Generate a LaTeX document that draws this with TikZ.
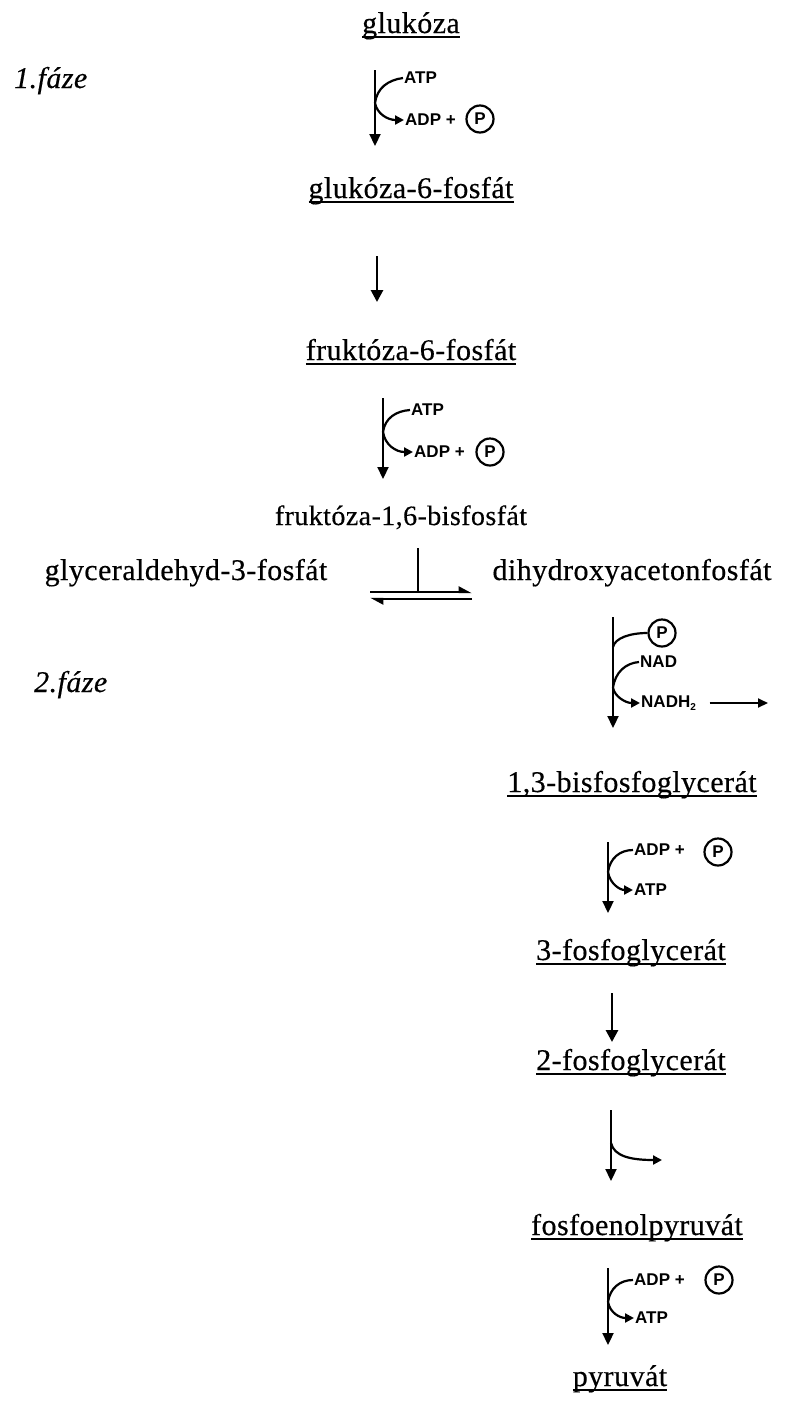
\documentclass[tikz,border=0pt]{standalone}
\usepackage{fontspec}
\setmainfont{Liberation Serif}[LetterSpace=1.5,FakeBold=0.4]
\setsansfont{Liberation Sans}
\usetikzlibrary{arrows.meta}

% underline at a fixed depth below the baseline
\newcommand\uln[1]{\setbox0=\hbox{#1}\rlap{\rule[-5pt]{\wd0}{1.6pt}}\box0}

\begin{document}
\begin{tikzpicture}[x=1pt,y=-1pt,
  chem/.style={anchor=base,inner sep=0pt,font=\fontsize{30}{32}\selectfont},
  phase/.style={anchor=base west,inner sep=0pt,font=\fontsize{30}{32}\selectfont\itshape},
  cof/.style={anchor=west,inner sep=1pt,font=\sffamily\bfseries\fontsize{17}{18}\selectfont},
  pcirc/.style={circle,draw,line width=2.2pt,inner sep=0pt,minimum size=27pt,
                font=\sffamily\bfseries\fontsize{17}{17}\selectfont},
  main/.style={line width=2.2pt,-{Triangle[length=12pt,width=11pt]}},
  bigarrow/.style={line width=2.8pt,-{Triangle[length=12pt,width=12pt]}},
  branch/.style={line width=2.2pt},
  branchtip/.style={line width=2.2pt,-{Triangle[length=9pt,width=9pt]}},
  harp/.style={line width=2.4pt,-{Triangle[harpoon,length=11pt,width=11pt]}}
]
\useasboundingbox (0,0) rectangle (787,1409);

% ---------- metabolites ----------
\node[chem] (glc)  at (411,33)   {\uln{glukóza}};
\node[phase] (ph1) at (14,88)    {1.fáze};
\node[chem] (g6p)  at (411,198)  {\uln{glukóza-6-fosfát}};
\node[chem] (f6p)  at (411,360)  {\uln{fruktóza-6-fosfát}};
\node[chem,font=\fontsize{28}{30}\selectfont] (fbp) at (401,525) {fruktóza-1,6-bisfosfát};
\node[chem] (gap)  at (186,580)  {glyceraldehyd-3-fosfát};
\node[chem] (dhap) at (632,580)  {dihydroxyacetonfosfát};
\node[phase] (ph2) at (34,692)   {2.fáze};
\node[chem] (bpg)  at (632,792)  {\uln{1,3-bisfosfoglycerát}};
\node[chem] (pg3)  at (631,960)  {\uln{3-fosfoglycerát}};
\node[chem] (pg2)  at (631,1070) {\uln{2-fosfoglycerát}};
\node[chem] (pep)  at (637,1235) {\uln{fosfoenolpyruvát}};
\node[chem] (pyr)  at (620,1386) {\uln{pyruvát}};

% ---------- step 1: glukóza -> glukóza-6-fosfát ----------
\coordinate (s1a) at (375,70);
\coordinate (s1b) at (375,146);
\coordinate (s1k) at (375,103);
\node[cof] (atp1) at (403,78)  {ATP};
\node[cof] (adp1) at (404,120) {ADP + };
\node[pcirc] (p1) at (480,119) {P};
\draw[main] (s1a) -- (s1b);
\draw[branch] (s1k) .. controls (377,88) and (388,80) .. (atp1.west);
\draw[branchtip] (s1k) .. controls (377,114) and (388,120) .. (adp1.west);

% ---------- step 2 ----------
\coordinate (s2a) at (377,256);
\coordinate (s2b) at (377,302);
\draw[bigarrow] (s2a) -- (s2b);

% ---------- step 3: fruktóza-6-fosfát -> fruktóza-1,6-bisfosfát ----------
\coordinate (s3a) at (383,398);
\coordinate (s3b) at (383,479);
\coordinate (s3k) at (383,432);
\node[cof] (atp3) at (410,410) {ATP};
\node[cof] (adp3) at (413,452) {ADP + };
\node[pcirc] (p3) at (490,452) {P};
\draw[main] (s3a) -- (s3b);
\draw[branch] (s3k) .. controls (385,418) and (396,411) .. (atp3.west);
\draw[branchtip] (s3k) .. controls (385,445) and (396,452) .. (adp3.west);

% ---------- aldolase split and isomerase equilibrium ----------
\coordinate (ek) at (418,548);
\coordinate (et) at (418,592);
\coordinate (el) at (370,592);
\coordinate (er) at (472,592);
\coordinate (bl) at (370,599);
\coordinate (br) at (472,599);
\draw[line width=2.4pt] (ek) -- (et);
\draw[harp] (el) -- (er);
\draw[harp] (br) -- (bl);

% ---------- step: dihydroxyacetonfosfát -> 1,3-bisfosfoglycerát ----------
\coordinate (s4a) at (613,617);
\coordinate (s4b) at (613,728);
\coordinate (s4k) at (613,647);
\coordinate (s4m) at (613,688);
\node[pcirc] (p4) at (662,633) {P};
\node[cof] (nad) at (639,662) {NAD};
\node[cof] (nadh) at (640,703) {NADH\textsubscript{\fontsize{10}{10}\selectfont 2}};
\coordinate (nadhend) at (768,703);
\draw[main] (s4a) -- (s4b);
\draw[branch] (s4k) .. controls (615,638) and (630,633) .. (p4.west);
\draw[branch] (s4m) .. controls (615,672) and (626,663) .. (nad.west);
\draw[branchtip] (s4m) .. controls (615,697) and (626,703) .. (nadh.west);
\draw[line width=2pt,-{Triangle[length=10pt,width=9pt]}] ([xshift=12pt]nadh.east) -- (nadhend);

% ---------- step: 1,3-bisfosfoglycerát -> 3-fosfoglycerát ----------
\coordinate (s5a) at (608,842);
\coordinate (s5b) at (608,913);
\coordinate (s5k) at (608,872);
\node[cof] (adp5) at (633,850) {ADP + };
\node[pcirc] (p5) at (718,852) {P};
\node[cof] (atp5) at (633,890) {ATP};
\draw[main] (s5a) -- (s5b);
\draw[branch] (s5k) .. controls (610,858) and (620,850) .. (adp5.west);
\draw[branchtip] (s5k) .. controls (610,884) and (620,890) .. (atp5.west);

% ---------- step: 3-fosfoglycerát -> 2-fosfoglycerát ----------
\coordinate (s6a) at (612,993);
\coordinate (s6b) at (612,1042);
\draw[bigarrow] (s6a) -- (s6b);

% ---------- step: 2-fosfoglycerát -> fosfoenolpyruvát ----------
\coordinate (s7a) at (611,1110);
\coordinate (s7b) at (611,1181);
\coordinate (s7k) at (611,1143);
\coordinate (s7e) at (662,1160);
\draw[main] (s7a) -- (s7b);
\draw[branchtip] (s7k) .. controls (614,1156) and (630,1160) .. (s7e);

% ---------- step: fosfoenolpyruvát -> pyruvát ----------
\coordinate (s8a) at (608,1268);
\coordinate (s8b) at (608,1345);
\coordinate (s8k) at (608,1302);
\node[cof] (adp8) at (633,1280) {ADP + };
\node[pcirc] (p8) at (719,1280) {P};
\node[cof] (atp8) at (634,1318) {ATP};
\draw[main] (s8a) -- (s8b);
\draw[branch] (s8k) .. controls (610,1288) and (620,1280) .. (adp8.west);
\draw[branchtip] (s8k) .. controls (610,1313) and (620,1318) .. (atp8.west);
\end{tikzpicture}
\end{document}
